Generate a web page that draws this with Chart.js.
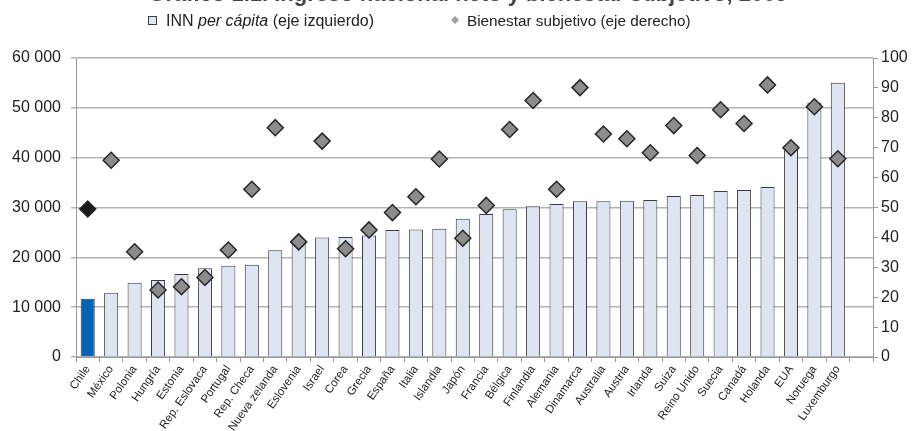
<!DOCTYPE html>
<html>
<head>
<meta charset="utf-8">
<script src="https://cdn.jsdelivr.net/npm/chart.js@4/dist/chart.umd.min.js"></script>
<style>
  html, body { margin: 0; padding: 0; background: #fff; }
  #wrap { width: 914px; height: 431px; position: relative; }
</style>
</head>
<body>
<div id="wrap"><canvas id="inn"></canvas></div>
<script>
// Countries, last slot left empty as in the original
const paises = ['Chile', 'México', 'Polonia', 'Hungría', 'Estonia', 'Rep. Eslovaca', 'Portugal',
  'Rep. Checa', 'Nueva zelanda', 'Eslovenia', 'Israel', 'Corea', 'Grecia', 'España', 'Italia',
  'Islandia', 'Japón', 'Francia', 'Bélgica', 'Finlandia', 'Alemania', 'Dinamarca', 'Australia',
  'Austria', 'Irlanda', 'Suiza', 'Reino Unido', 'Suecia', 'Canadá', 'Holanda', 'EUA', 'Noruega',
  'Luxemburgo', ''];

// INN per cápita (left axis)
const innPerCapita = [11700, 12900, 14900, 15450, 16650, 17800, 18300, 18500, 21400, 22800,
  24000, 24100, 24400, 25500, 25600, 25750, 27750, 28700, 29650, 30250, 30700, 31250, 31250,
  31350, 31500, 32300, 32500, 33300, 33500, 34100, 41900, 51000, 55050, null];

// Bienestar subjetivo (right axis)
const bienestar = [49.5, 65.8, 35.2, 22.4, 23.5, 26.6, 35.8, 56.1, 76.7, 38.5, 72.2, 36.2,
  42.5, 48.3, 53.6, 66.2, 39.7, 50.7, 76.1, 85.8, 56.1, 90.1, 74.6, 73.0, 68.3, 77.4, 67.4,
  82.7, 78.1, 91.0, 70.0, 83.7, 66.3, null];

const FONT = "'Liberation Sans', Arial, sans-serif";
const barFill = paises.map(p => p === 'Chile' ? '#0066b3' : '#dfe4f3');
const diamondFill = paises.map(p => p === 'Chile' ? '#1a1a1a' : '#8c8c8c');

function miles(v) {
  return String(v).replace(/\B(?=(\d{3})+(?!\d))/g, ' ');
}

// title (cut off at the top edge) and legend with italic "per cápita"
const headerPlugin = {
  id: 'header',
  afterDraw(chart) {
    const ctx = chart.ctx;
    ctx.save();
    ctx.fillStyle = '#444';
    ctx.font = 'bold 22px ' + FONT;
    ctx.textAlign = 'center';
    ctx.textBaseline = 'alphabetic';
    ctx.fillText('Gráfico 1.1. Ingreso nacional neto y bienestar subjetivo, 2009', 468, 1);

    ctx.textAlign = 'left';
    const y = 26;
    // square marker
    ctx.fillStyle = '#dfe4f3';
    ctx.strokeStyle = '#404040';
    ctx.lineWidth = 1;
    ctx.fillRect(148.5, 16.5, 8, 8);
    ctx.strokeRect(148.5, 16.5, 8, 8);
    ctx.fillStyle = '#222';
    let x = 166;
    ctx.font = '16px ' + FONT;
    ctx.fillText('INN ', x, y);
    x += ctx.measureText('INN ').width;
    ctx.font = 'italic 16px ' + FONT;
    ctx.fillText('per cápita', x, y);
    x += ctx.measureText('per cápita').width;
    ctx.font = '16px ' + FONT;
    ctx.fillText(' (eje izquierdo)', x, y);
    // diamond marker
    ctx.fillStyle = '#a0a0a0';
    ctx.beginPath();
    ctx.moveTo(455, 16); ctx.lineTo(459, 20); ctx.lineTo(455, 24); ctx.lineTo(451, 20);
    ctx.closePath();
    ctx.fill();
    ctx.fillStyle = '#222';
    ctx.font = '15.3px ' + FONT;
    ctx.fillText('Bienestar subjetivo (eje derecho)', 467, y);
    ctx.restore();
  }
};

new Chart(document.getElementById('inn'), {
  type: 'bar',
  data: {
    labels: paises,
    datasets: [
      {
        type: 'line',
        label: 'Bienestar subjetivo (eje derecho)',
        data: bienestar,
        yAxisID: 'y1',
        showLine: false,
        pointStyle: 'rectRot',
        pointRadius: 8,
        pointHoverRadius: 8,
        pointBackgroundColor: diamondFill,
        pointBorderColor: '#262626',
        pointBorderWidth: 1.5,
        order: 0,
      },
      {
        label: 'INN per cápita (eje izquierdo)',
        data: innPerCapita,
        yAxisID: 'y',
        backgroundColor: barFill,
        borderColor: '#3a3a3a',
        borderWidth: 1,
        barPercentage: 0.6,
        categoryPercentage: 1,
        order: 1,
      },
    ],
  },
  options: {
    responsive: true,
    maintainAspectRatio: false,
    animation: false,
    layout: { padding: { top: 58, left: 0, right: 0, bottom: 0 } },
    plugins: {
      legend: { display: false },
      tooltip: { enabled: false },
    },
    scales: {
      x: {
        grid: { drawOnChartArea: false, drawTicks: true, tickLength: 5, color: '#999', offset: true },
        border: { color: '#999' },
        ticks: {
          autoSkip: false,
          maxRotation: 55,
          minRotation: 55,
          padding: 1,
          color: '#222',
          font: { family: FONT, size: 11.5 },
        },
        afterFit(s) { s.height = 74; },
      },
      y: {
        position: 'left',
        min: 0,
        max: 60000,
        grid: { color: '#b3b3b3', lineWidth: 1.5, tickLength: 5, drawTicks: true },
        border: { color: '#999', display: true },
        ticks: {
          stepSize: 10000,
          padding: 10,
          color: '#222',
          font: { family: FONT, size: 16 },
          callback: v => miles(v),
        },
        afterFit(s) { s.width = 76; },
      },
      y1: {
        position: 'right',
        min: 0,
        max: 100,
        grid: { drawOnChartArea: false, tickLength: 5, color: '#999' },
        border: { color: '#999' },
        ticks: {
          stepSize: 10,
          padding: 3,
          color: '#222',
          font: { family: FONT, size: 16 },
        },
        afterFit(s) { s.width = 41; },
      },
    },
  },
  plugins: [headerPlugin],
});
</script>
</body>
</html>
